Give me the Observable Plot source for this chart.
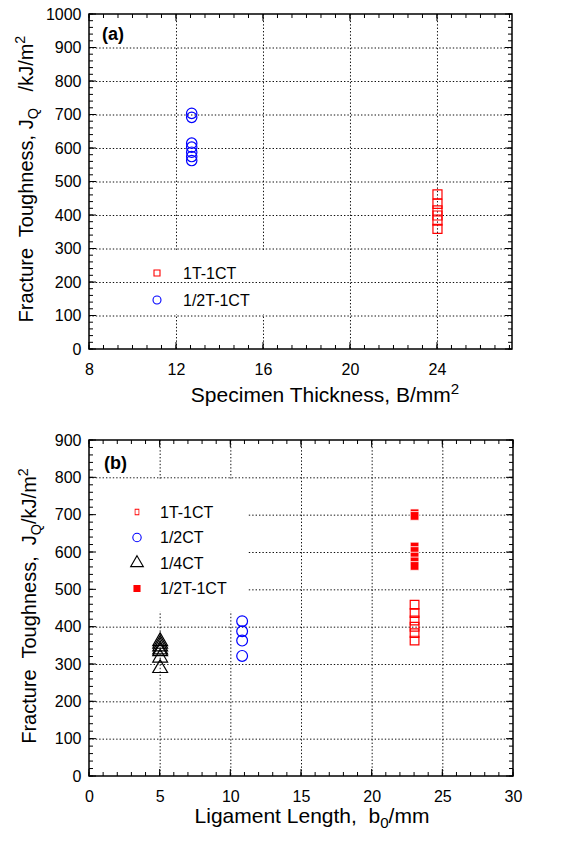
<!DOCTYPE html>
<html><head><meta charset="utf-8">
<script src="https://cdn.jsdelivr.net/npm/d3@7"></script>
<script src="https://cdn.jsdelivr.net/npm/@observablehq/plot@0.6"></script>
<style>
body{margin:0;background:#fff;}
#chart{width:565px;height:849px;overflow:hidden;}
svg{display:block;font-family:"Liberation Sans",Arial,sans-serif;}
</style></head><body><div id="chart"></div>
<script>
// ---------- Panel (a) data ----------
const aSeriesNames = ["1T-1CT", "1/2T-1CT"];
const aThick1T = [24, 24, 24, 24, 24, 24];
const aJ1T = [463, 435, 415, 400, 385, 360];
const aThickHalf = [12.7, 12.7, 12.7, 12.7, 12.7, 12.7, 12.7];
const aJHalf = [705, 693, 616, 604, 589, 576, 564];
const aXTicks = [8, 12, 16, 20, 24];
const aYTicks = [0, 100, 200, 300, 400, 500, 600, 700, 800, 900, 1000];

// ---------- Panel (b) data ----------
const bSeriesNames = ["1T-1CT", "1/2CT", "1/4CT", "1/2T-1CT"];
const bLig1T = [23, 23, 23, 23, 23, 23];
const bJ1T = [460, 438, 418, 401, 384, 364];
const bLigHalfCT = [10.8, 10.8, 10.8, 10.8];
const bJHalfCT = [416, 389, 364, 323];
const bLigQuarterCT = [5, 5, 5, 5, 5, 5, 5];
const bJQuarterCT = [362, 355, 348, 340, 335, 318, 290];
const bLigHalfT = [23, 23, 23, 23, 23, 23, 23];
const bJHalfT = [705, 698, 616, 604, 589, 576, 564];
const bXTicks = [0, 5, 10, 15, 20, 25, 30];
const bYTicks = [0, 100, 200, 300, 400, 500, 600, 700, 800, 900];

const zip = (xs, ys) => xs.map((x, i) => ({x, y: ys[i]}));
const RED = "#ff0000", BLUE = "#0000ff";
const GRID = {stroke: "#111", strokeWidth: 1, strokeDasharray: "1.4,2"};

function minorTicks(lo, hi, step) {
  const out = [];
  for (let v = lo; v <= hi + 1e-9; v += step) out.push(+v.toFixed(6));
  return out;
}

// inward ticks on all four sides, placed through the chart's own scales
function drawTicks(chart, svg, xMajor, xMinor, yMajor, yMinor) {
  const sx = chart.scale("x"), sy = chart.scale("y");
  const [x0, x1] = sx.range, [y0, y1] = sy.range; // y0 bottom, y1 top
  const g = svg.append("g").attr("stroke", "black").attr("stroke-width", 1);
  const M = 7, m = 4;
  const vx = (v, len) => {
    const px = sx.apply(v);
    g.append("line").attr("x1", px).attr("x2", px).attr("y1", y0).attr("y2", y0 - len);
    g.append("line").attr("x1", px).attr("x2", px).attr("y1", y1).attr("y2", y1 + len);
  };
  const vy = (v, len) => {
    const py = sy.apply(v);
    g.append("line").attr("y1", py).attr("y2", py).attr("x1", x0).attr("x2", x0 + len);
    g.append("line").attr("y1", py).attr("y2", py).attr("x1", x1).attr("x2", x1 - len);
  };
  xMinor.forEach(v => vx(v, m));
  xMajor.forEach(v => vx(v, M));
  yMinor.forEach(v => vy(v, m));
  yMajor.forEach(v => vy(v, M));
  svg.append("rect").attr("x", x0).attr("y", y1).attr("width", x1 - x0).attr("height", y0 - y1)
    .attr("fill", "none").attr("stroke", "black").attr("stroke-width", 1.5);
}

function addText(svg, opts, parts) {
  const t = svg.append("text")
    .attr("font-size", opts.size)
    .attr("fill", "black")
    .attr("text-anchor", "middle")
    .style("white-space", "pre");
  if (opts.rotate) t.attr("transform", `translate(${opts.x},${opts.y}) rotate(-90)`);
  else t.attr("x", opts.x).attr("y", opts.y);
  let shift = 0;
  for (const p of parts) {
    const sp = t.append("tspan").text(p.t);
    let target = p.sub ? 5 : p.sup ? -8 : 0;
    if (target !== shift) { sp.attr("dy", target - shift); shift = target; }
    if (p.sub || p.sup) sp.attr("font-size", opts.size * 0.72);
  }
  return t;
}

function legend(svg, items, x0, tx, y0, dy, size) {
  const g = svg.append("g");
  items.forEach((it, i) => {
    const y = y0 + i * dy;
    g.append("path")
      .attr("d", d3.symbol(it.symbol, it.area)())
      .attr("transform", `translate(${x0},${y})${it.scaleX ? ` scale(${it.scaleX},1)` : ""}`)
      .attr("fill", it.fill).attr("stroke", it.stroke).attr("stroke-width", 1.1);
    g.append("text").attr("x", tx).attr("y", y + size * 0.36)
      .attr("text-anchor", "start")
      .attr("font-size", size).attr("fill", "black").text(it.name);
  });
}

const root = document.getElementById("chart");
const STYLE = {fontFamily: "Liberation Sans, Arial, sans-serif", fontSize: "16px", background: "white"};

// ---------- Panel (a) ----------
{
  const W = 565, H = 420, mt = 14, mb = 71, ml = 89, mr = 53;
  const chart = Plot.plot({
    width: W, height: H, marginTop: mt, marginBottom: mb, marginLeft: ml, marginRight: mr,
    x: {domain: [8, 27.45], label: null},
    y: {domain: [0, 1000], label: null},
    style: STYLE,
    marks: [
      Plot.ruleX(aXTicks.slice(1), GRID),
      Plot.rect([0], {x1: 8.05, x2: 16.4, y1: 104, y2: 296, fill: "white"}),
      Plot.ruleY(aYTicks.slice(1, -1), GRID),
      Plot.axisX(aXTicks, {anchor: "bottom", tickSize: 0, tickPadding: 14, fontSize: 16, tickFormat: d3.format("d")}),
      Plot.axisY(aYTicks, {anchor: "left", tickSize: 0, tickPadding: 8, fontSize: 16, tickFormat: d3.format("d")}),
      Plot.dot(zip(aThick1T, aJ1T), {x: "x", y: "y", symbol: "square", r: 5.1, stroke: RED, fill: "none", strokeWidth: 1.2}),
      Plot.dot(zip(aThickHalf, aJHalf), {x: "x", y: "y", symbol: "circle", r: 5.2, stroke: BLUE, fill: "none", strokeWidth: 1.2})
    ]
  });
  root.appendChild(chart);
  const svg = d3.select(chart);
  drawTicks(chart, svg, aXTicks, minorTicks(8, 27.4, 2 / 3), aYTicks, minorTicks(0, 1000, 20));
  svg.append("text").attr("x", 102).attr("y", 40).attr("font-size", 18).attr("font-weight", "bold")
    .attr("text-anchor", "start").text("(a)");
  addText(svg, {x: 33, y: 179, size: 20, rotate: true},
    [{t: "Fracture  Toughness, J"}, {t: "Q", sub: true}, {t: "   /kJ/m"}, {t: "2", sup: true}]);
  addText(svg, {x: 325, y: 402, size: 21},
    [{t: "Specimen Thickness, B/mm"}, {t: "2", sup: true}]);
  legend(svg, [
    {name: aSeriesNames[0], symbol: d3.symbolSquare, area: 36, fill: "none", stroke: RED},
    {name: aSeriesNames[1], symbol: d3.symbolCircle, area: 50, fill: "none", stroke: BLUE}
  ], 157, 183, 273, 27, 16);
}

// ---------- Panel (b) ----------
{
  const W = 565, H = 429, mt = 20, mb = 73, ml = 89, mr = 52;
  const chart = Plot.plot({
    width: W, height: H, marginTop: mt, marginBottom: mb, marginLeft: ml, marginRight: mr,
    x: {domain: [0, 30], label: null},
    y: {domain: [0, 900], label: null},
    style: STYLE,
    marks: [
      Plot.ruleX(bXTicks.slice(1, -1), GRID),
      Plot.ruleY(bYTicks.slice(1, -1), GRID),
      Plot.rect([0], {x1: 0.05, x2: 11.2, y1: 440, y2: 796, fill: "white"}),
      Plot.axisX(bXTicks, {anchor: "bottom", tickSize: 0, tickPadding: 14, fontSize: 16, tickFormat: d3.format("d")}),
      Plot.axisY(bYTicks, {anchor: "left", tickSize: 0, tickPadding: 8, fontSize: 16, tickFormat: d3.format("d")}),
      Plot.dot(zip(bLig1T, bJ1T), {x: "x", y: "y", symbol: "square", r: 4.9, stroke: RED, fill: "none", strokeWidth: 1.2}),
      Plot.dot(zip(bLigHalfT, bJHalfT), {x: "x", y: "y", symbol: "square", r: 4.9, stroke: "white", fill: RED, strokeWidth: 0.8}),
      Plot.dot(zip(bLigHalfCT, bJHalfCT), {x: "x", y: "y", symbol: "circle", r: 5.4, stroke: BLUE, fill: "none", strokeWidth: 1.2}),
      Plot.dot(zip(bLigQuarterCT, bJQuarterCT), {x: "x", y: "y", symbol: "triangle", r: 5.5, stroke: "black", fill: "none", strokeWidth: 1.2})
    ]
  });
  root.appendChild(chart);
  const svg = d3.select(chart);
  drawTicks(chart, svg, bXTicks, minorTicks(0, 30, 1), bYTicks, minorTicks(0, 900, 20));
  svg.append("text").attr("x", 104).attr("y", 49).attr("font-size", 18).attr("font-weight", "bold")
    .attr("text-anchor", "start").text("(b)");
  addText(svg, {x: 36, y: 186, size: 20, rotate: true},
    [{t: "Fracture  Toughness,  J"}, {t: "Q", sub: true}, {t: "/kJ/m"}, {t: "2", sup: true}]);
  addText(svg, {x: 312, y: 403, size: 21},
    [{t: "Ligament Length,  b"}, {t: "0", sub: true}, {t: "/mm"}]);
  legend(svg, [
    {name: bSeriesNames[0], symbol: d3.symbolSquare, area: 30, fill: "none", stroke: RED, scaleX: 0.7},
    {name: bSeriesNames[1], symbol: d3.symbolCircle, area: 55, fill: "none", stroke: BLUE},
    {name: bSeriesNames[2], symbol: d3.symbolTriangle, area: 70, fill: "none", stroke: "black"},
    {name: bSeriesNames[3], symbol: d3.symbolSquare, area: 36, fill: RED, stroke: RED}
  ], 137, 160, 92, 25.5, 16);
}
</script></body></html>
